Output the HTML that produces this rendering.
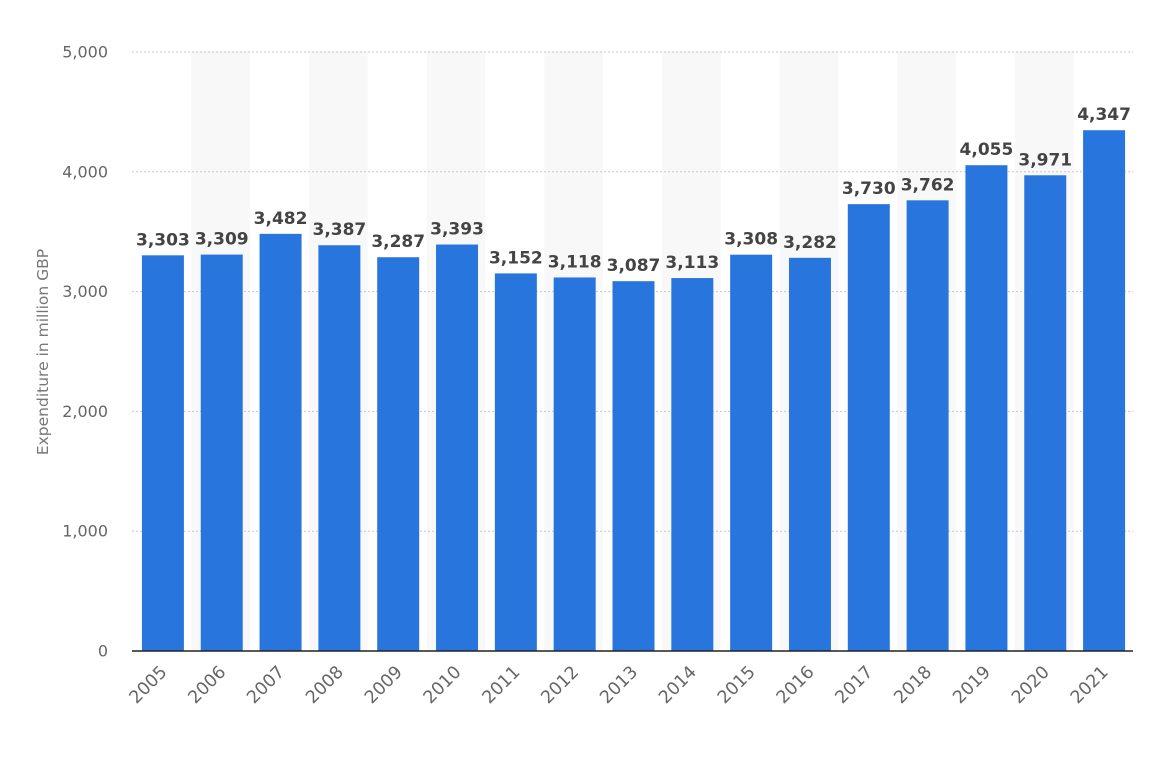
<!DOCTYPE html>
<html><head><meta charset="utf-8"><style>
html,body{margin:0;padding:0;background:#fff;}
svg{display:block;font-family:"DejaVu Sans","Liberation Sans",sans-serif;}
</style></head><body>
<svg id="c" width="1156" height="758" xmlns="http://www.w3.org/2000/svg">
<g id="bands"></g>
<g id="grid"></g>
<g id="bars"></g>
<line x1="132" y1="651" x2="1133" y2="651" stroke="#222" stroke-width="1.5"/>
<text x="48" y="352" transform="rotate(-90 48 352)" text-anchor="middle" font-size="15.5" fill="#777">Expenditure in million GBP</text>
<script>
var vals=[3303,3309,3482,3387,3287,3393,3152,3118,3087,3113,3308,3282,3730,3762,4055,3971,4347];
var NS="http://www.w3.org/2000/svg";
function el(p,t,a,txt){var e=document.createElementNS(NS,t);for(var k in a)e.setAttribute(k,a[k]);if(txt!=null)e.textContent=txt;document.getElementById(p).appendChild(e);return e;}
var x0=133.5,cw=1000/17,y0=651,ppu=599/5000;
for(var i=0;i<17;i++){if(i%2==1)el("bands","rect",{x:x0+i*cw-1,y:51,width:cw,height:600,fill:"#f8f8f8"});}
for(var t=0;t<=5;t++){var y=y0-t*1000*ppu;
 if(t>0)el("grid","line",{x1:132,x2:1133,y1:y,y2:y,stroke:"#c8c8c8","stroke-dasharray":"2,2","stroke-width":1});
 el("grid","text",{x:108,y:y+5.5,"text-anchor":"end","font-size":"16",fill:"#666"},t==0?"0":(t+",000"));}
for(var i=0;i<17;i++){var v=vals[i],cx=x0+i*cw+cw/2,h=v*ppu;
 el("bars","rect",{x:cx-21,y:y0-h,width:42,height:h,fill:"#2876dd"});
 el("bars","text",{x:cx,y:y0-h-10,"text-anchor":"middle","font-size":"17","font-weight":"bold",fill:"#444"},v.toLocaleString("en-US"));
 var lx=cx+5,ly=673;
 el("bars","text",{x:lx,y:ly,"text-anchor":"end","font-size":"17.5",fill:"#666",transform:"rotate(-45 "+lx+" "+ly+")"},String(2005+i));}
</script>
</svg>
</body></html>
